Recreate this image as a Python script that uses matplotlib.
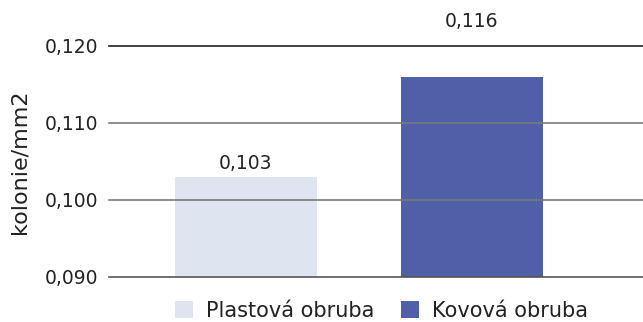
import matplotlib
matplotlib.use("Agg")
from matplotlib import pyplot
from matplotlib.patches import Patch
from matplotlib.ticker import FuncFormatter

# bar chart data
categories = ["Plastová obruba", "Kovová obruba"]
values = [0.103, 0.116]
value_labels = ["0,103", "0,116"]
yticks = [0.090, 0.100, 0.110, 0.120]

colors = ["#dfe5f0", "#4f5fa8"]
label_offsets = [3, 33]  # points above bar top

pyplot.rcParams["font.family"] = ["DejaVu Sans"]

fig = pyplot.figure(figsize=(6.43, 3.22), dpi=100)
ax = fig.add_axes([109/643, 1-277/322, 1-109/643, (277-46)/322])

xpos = list(range(len(categories)))
ax.bar(xpos, values, width=0.63, color=colors, zorder=1)

ax.set_xlim(-0.606, 1.757)
ax.set_ylim(yticks[0], yticks[-1])
ax.set_yticks(yticks)
ax.yaxis.set_major_formatter(FuncFormatter(lambda v, p: f"{v:.3f}".replace(".", ",")))
ax.set_xticks([])

for spine in ax.spines.values():
	spine.set_visible(False)

ax.tick_params(axis="y", length=0, pad=8, labelsize=13.5, labelcolor="#222222")

# horizontal lines drawn over the bars
for yv in yticks:
	lc = "#222222" if yv == yticks[-1] else "#7a7a7a"
	if yv == yticks[0]:
		lc = "#555555"
	ax.axhline(yv, color=lc, linewidth=1.2, zorder=3, clip_on=False)

for x, v, txt, off in zip(xpos, values, value_labels, label_offsets):
	ax.annotate(txt, (x, v), xytext=(0, off), textcoords="offset points",
		ha="center", va="bottom", fontsize=13.5, color="#222222", annotation_clip=False)

ax.set_ylabel("kolonie/mm2", fontsize=16, color="#222222", labelpad=11)

handles = [Patch(facecolor=c, edgecolor="none") for c in colors]
fig.legend(handles, categories, loc="center left", bbox_to_anchor=(156/643, 1-311/322),
	ncol=2, frameon=False, fontsize=15, handlelength=0.87, handleheight=0.87,
	handletextpad=0.62, columnspacing=1.3, labelcolor="#222222")

fig.savefig("out.png", dpi=100)
